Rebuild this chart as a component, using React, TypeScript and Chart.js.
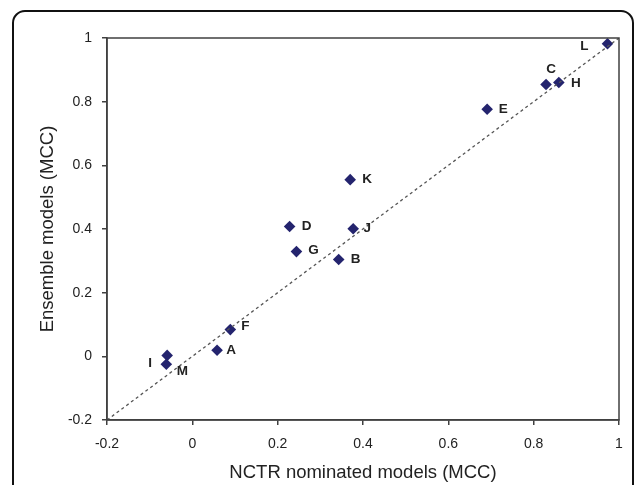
import React, { useEffect, useRef } from "react";
import { Chart, registerables } from "chart.js";

Chart.register(...registerables);

const modelLabels = ["L", "C", "H", "E", "K", "J", "D", "G", "B", "F", "A", "I", "M"];
const nctrMcc = [0.973, 0.829, 0.859, 0.691, 0.37, 0.377, 0.228, 0.244, 0.343, 0.089, 0.058, -0.059, -0.061];
const ensembleMcc = [0.982, 0.854, 0.86, 0.776, 0.555, 0.401, 0.408, 0.329, 0.304, 0.084, 0.019, 0.003, -0.025];
const axisMin = -0.2;
const axisMax = 1;
const axisStep = 0.2;
const tickLabels = ["-0.2", "0", "0.2", "0.4", "0.6", "0.8", "1"];
const xTitle = "NCTR nominated models (MCC)";
const yTitle = "Ensemble models (MCC)";

// label placement (pixel offsets from the marker centre)
const labelOffsets: Record<string, [number, number]> = {
  L: [-23, 3], C: [5, -15], H: [17, 1], E: [16, 0], K: [17, 0], J: [14, 0],
  D: [17, 0], G: [17, -1], B: [17, 0], F: [15, -3], A: [14, 0], I: [-17, 8], M: [16, 7],
};

const FONT = "Arial, 'Liberation Sans', sans-serif";
const MARK = "#24246e";
const TEXT = "#222";
const AXIS = "#404040";

export default function App() {
  const ref = useRef<HTMLCanvasElement | null>(null);
  useEffect(() => {
    if (!ref.current) return;
    const framePlugin = {
      id: "frame",
      beforeDraw(chart: any) {
        const ctx = chart.ctx;
        ctx.save();
        ctx.fillStyle = "#fff";
        ctx.fillRect(0, 0, chart.width, chart.height);
        ctx.strokeStyle = "#111";
        ctx.lineWidth = 2;
        const x = 13, y = 11, w = 620, h = 520, r = 12;
        ctx.beginPath();
        ctx.moveTo(x + r, y);
        ctx.lineTo(x + w - r, y);
        ctx.arcTo(x + w, y, x + w, y + r, r);
        ctx.lineTo(x + w, y + h);
        ctx.lineTo(x, y + h);
        ctx.lineTo(x, y + r);
        ctx.arcTo(x, y, x + r, y, r);
        ctx.closePath();
        ctx.stroke();
        ctx.restore();
      },
      afterDraw(chart: any) {
        const { left, top, right, bottom } = chart.chartArea;
        const ctx = chart.ctx;
        ctx.save();
        ctx.strokeStyle = AXIS;
        ctx.lineWidth = 1.5;
        ctx.strokeRect(left, top, right - left, bottom - top);
        ctx.restore();
      },
    };
    const labelPlugin = {
      id: "pointLabels",
      afterDatasetsDraw(chart: any) {
        const meta = chart.getDatasetMeta(1);
        const ctx = chart.ctx;
        ctx.save();
        ctx.font = `bold 13.5px ${FONT}`;
        ctx.fillStyle = TEXT;
        ctx.textAlign = "center";
        ctx.textBaseline = "middle";
        meta.data.forEach((el: any, i: number) => {
          const name = modelLabels[i];
          const off = labelOffsets[name] || [15, 0];
          ctx.fillText(name, el.x + off[0], el.y + off[1]);
        });
        ctx.restore();
      },
    };
    const chart = new Chart(ref.current, {
      type: "scatter",
      data: {
        datasets: [
          {
            type: "line",
            data: [
              { x: axisMin, y: axisMin },
              { x: axisMax, y: axisMax },
            ],
            borderColor: "#555",
            borderWidth: 1.3,
            borderDash: [3, 3],
            pointRadius: 0,
            fill: false,
          } as any,
          {
            data: nctrMcc.map((x, i) => ({ x, y: ensembleMcc[i] })),
            pointStyle: "rectRot",
            pointRadius: 5.8,
            backgroundColor: MARK,
            borderColor: MARK,
            borderWidth: 0,
          },
        ],
      },
      options: {
        responsive: false,
        animation: false,
        layout: { padding: { left: 33, top: 38, right: 16, bottom: 0 } },
        plugins: { legend: { display: false }, tooltip: { enabled: false } },
        scales: {
          x: {
            type: "linear",
            min: axisMin,
            max: axisMax,
            ticks: {
              stepSize: axisStep,
              color: TEXT,
              font: { family: FONT, size: 14 },
              padding: 11,
              maxRotation: 0,
              callback: (_v: any, i: number) => tickLabels[i],
            },
            grid: { display: true, drawOnChartArea: false, drawTicks: true, tickLength: 5, color: AXIS, lineWidth: 1.5 },
            border: { display: true, color: AXIS, width: 1.5 },
            title: {
              display: true,
              text: xTitle,
              color: TEXT,
              font: { family: FONT, size: 18.5 },
              padding: { top: 4, bottom: 1 },
            },
            afterFit: (s: any) => { s.height = 65; },
          },
          y: {
            type: "linear",
            min: axisMin,
            max: axisMax,
            ticks: {
              stepSize: axisStep,
              color: TEXT,
              font: { family: FONT, size: 14 },
              padding: 10,
              callback: (_v: any, i: number) => tickLabels[i],
            },
            grid: { display: true, drawOnChartArea: false, drawTicks: true, tickLength: 5, color: AXIS, lineWidth: 1.5 },
            border: { display: true, color: AXIS, width: 1.5 },
            title: {
              display: true,
              text: yTitle,
              color: TEXT,
              font: { family: FONT, size: 18.5 },
              padding: { top: 4, bottom: 4 },
            },
            afterFit: (s: any) => { s.width = 74; },
          },
        },
      },
      plugins: [framePlugin, labelPlugin],
    });
    return () => chart.destroy();
  }, []);
  return (
    <div style={{ position: "fixed", left: 0, top: 0, width: 635, height: 485, background: "#fff" }}>
      <canvas ref={ref} width={635} height={485} style={{ display: "block" }} />
    </div>
  );
}
